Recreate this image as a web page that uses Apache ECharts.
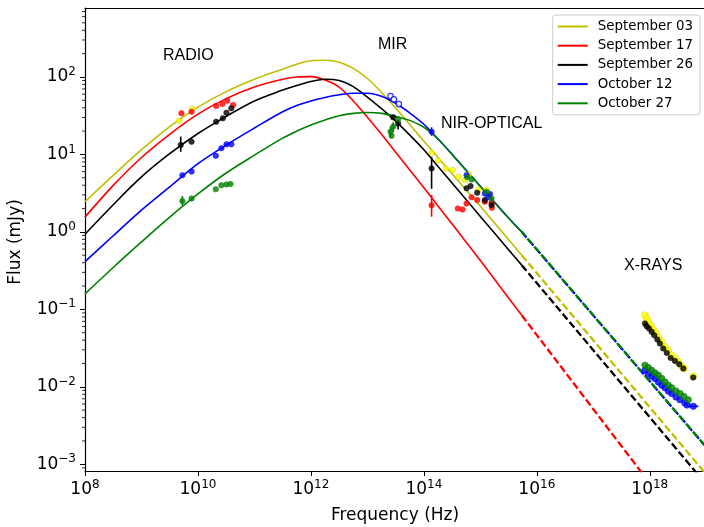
<!DOCTYPE html>
<html>
<head>
<meta charset="utf-8">
<script src="https://cdn.jsdelivr.net/npm/echarts@6/dist/echarts.min.js"></script>
<style>
  html, body { margin: 0; padding: 0; background: #fff; }
  #chart { width: 704px; height: 527px; }
</style>
</head>
<body>
<div id="chart"></div>
<script>
// model curves (Hz, mJy): half decades, quarter decades around the peaks
const curveFreq = [1e8, 3.16e8, 1e9, 3.16e9, 1e10, 3.16e10, 1e11, 3.16e11, 5.62e11, 1e12, 1.78e12, 3.16e12, 5.62e12,
  1e13, 1.78e13, 3.16e13, 5.62e13, 1e14, 1.78e14, 3.16e14, 1e15, 3.16e15, 5.4e15];
const sep03Curve = [2.45, 5.37, 11.5, 22.9, 40.7, 64.6, 93.3, 126, 146, 162, 164, 155, 129, 95.5, 63.1, 39.8, 24.3, 14.8, 9.12, 5.62, 2.14, 0.794, 0.50];
const sep17Curve = [1.55, 3.98, 9.12, 18.2, 33.1, 52.5, 74.1, 93.3, 100, 101, 91.2, 74.1, 49.0, 30.2, 18.2, 10.7, 6.31, 3.72, 2.16, 1.26, 0.427, 0.140, 0.0839];
const sep26Curve = [0.933, 2.24, 5.13, 10.2, 18.6, 30.9, 49.0, 67.6, 77.6, 87.1, 93.3, 90.2, 75.0, 55.0, 38.9, 26.9, 17.8, 11.5, 7.0, 4.27, 1.58, 0.589, 0.372];
const oct12Curve = [0.412, 0.891, 1.91, 3.80, 7.59, 13.2, 21.9, 35.5, 42.7, 49.0, 54.3, 58.9, 61.7, 61.7, 56.2, 45.7, 34.3, 24.5, 15.8, 10.0, 3.89, 1.51, 1.0];
const oct27Curve = [0.158, 0.347, 0.741, 1.55, 3.09, 5.75, 9.77, 16.2, 20.0, 24.0, 27.9, 31.6, 33.9, 34.7, 33.9, 30.9, 27.5, 22.4, 15.8, 10.0, 3.85, 1.51, 1.0];

// extrapolation to X-rays (dashed)
const extraFreq = [5.4e15, 1e19];
const sep03Extra = [0.50, 7.4e-4];
const sep17Extra = [0.0839, 6.3e-5];
const sep26Extra = [0.372, 5.5e-4];
const oct12Extra = [1.0, 1.66e-3];
const oct27Extra = [1.0, 1.66e-3];

// observed points: radio, MIR, NIR-optical
const sep03Freq = [4.6e9, 7.9e9, 1.37e14, 1.78e14, 2.45e14, 3.24e14, 4.07e14, 5.3e14, 6.3e14, 9.2e14, 1.29e15, 1.38e15];
const sep03Flux = [27.2, 38.9, 10.5, 8.3, 6.6, 6.3, 5.15, 4.67, 5.5, 3.5, 3.5, 3.0];
const sep17Freq = [5.1e9, 7.7e9, 2.1e10, 2.7e10, 3.3e10, 4.2e10, 1.37e14, 3.98e14, 4.84e14, 5.7e14, 7.0e14, 8.8e14, 1.2e15, 1.58e15, 1.6e15];
const sep17Flux = [34, 35.6, 42.2, 44.8, 49.4, 43.5, 2.2, 2.0, 1.95, 2.33, 2.79, 2.57, 2.45, 2.38, 2.05];
const sep26Freq = [4.95e9, 7.7e9, 2.1e10, 2.75e10, 3.2e10, 3.9e10, 2.86e13, 3.5e13, 1.37e14, 5.7e14, 6.7e14, 8.8e14, 1.2e15, 1.58e15];
const sep26Flux = [13.2, 14.6, 26.4, 29.2, 34.6, 39.5, 30.1, 25.1, 6.6, 3.65, 3.9, 3.2, 2.57, 2.22];
const oct12Freq = [5.3e9, 7.7e9, 2.07e10, 2.6e10, 3.2e10, 3.9e10, 1.37e14, 5.7e14, 1.2e15, 1.38e15, 1.48e15];
const oct12Flux = [5.4, 6.0, 9.6, 12.0, 13.5, 13.5, 19.6, 5.4, 3.14, 2.79, 3.08];
const oct12MirFreq = [2.57e13, 2.94e13, 3.6e13];
const oct12MirFlux = [56.7, 51.3, 44.7];
const oct27Freq = [5.3e9, 7.7e9, 2.07e10, 2.6e10, 3.2e10, 3.76e10, 2.57e13, 2.68e13, 2.86e13, 3.5e13, 5.85e14, 7.0e14, 1.29e15, 1.58e15];
const oct27Flux = [2.5, 2.7, 3.54, 4.0, 4.1, 4.14, 19.6, 17.4, 22.8, 28.4, 5.06, 4.76, 3.3, 2.7];

// X-ray points
const sep03XFreq = [8.22e17, 8.81e17, 9.42e17, 1.04e18, 1.15e18, 1.29e18, 1.44e18, 1.63e18, 1.86e18, 2.13e18, 2.44e18, 2.79e18, 3.2e18, 3.67e18, 4.04e18, 5.89e18];
const sep03XFlux = [0.084, 0.076, 0.069, 0.062, 0.055, 0.049, 0.043, 0.038, 0.033, 0.029, 0.0255, 0.0231, 0.0209, 0.0184, 0.0172, 0.0137];
const sep26XFreq = [8.22e17, 8.81e17, 9.68e17, 1.08e18, 1.2e18, 1.36e18, 1.51e18, 1.73e18, 2.0e18, 2.34e18, 2.79e18, 3.33e18, 3.93e18, 5.89e18];
const sep26XFlux = [0.0656, 0.0605, 0.0565, 0.0512, 0.0463, 0.0408, 0.0362, 0.0312, 0.0274, 0.0236, 0.0216, 0.0195, 0.0172, 0.0132];
const oct12XFreq = [8.22e17, 9.42e17, 1.08e18, 1.24e18, 1.42e18, 1.63e18, 1.86e18, 2.13e18, 2.44e18, 2.91e18, 3.43e18, 4.17e18, 4.57e18, 5.89e18];
const oct12XFlux = [0.0163, 0.0148, 0.0137, 0.0128, 0.0115, 0.0105, 0.0097, 0.0088, 0.0082, 0.0074, 0.0068, 0.0062, 0.0058, 0.0056];
const oct27XFreq = [8.22e17, 9.42e17, 1.08e18, 1.24e18, 1.42e18, 1.63e18, 1.86e18, 2.13e18, 2.44e18, 2.91e18, 3.43e18, 4.04e18, 4.81e18];
const oct27XFlux = [0.019, 0.0177, 0.0163, 0.0151, 0.0141, 0.0128, 0.0115, 0.0105, 0.0097, 0.0088, 0.0082, 0.0075, 0.0068];

// error bars
const sep17ErrFreq = [1.37e14], sep17ErrLo = [1.57], sep17ErrHi = [3.0];
const sep26ErrFreq = [4.95e9, 3.5e13, 1.37e14], sep26ErrLo = [10.8, 21, 3.6], sep26ErrHi = [17, 28, 9.3];
const oct12ErrFreq = [1.37e14], oct12ErrLo = [17.4], oct12ErrHi = [22.4];
const oct27ErrFreq = [5.3e9, 2.57e13, 2.86e13], oct27ErrLo = [2.2, 16.5, 19.5], oct27ErrHi = [2.9, 23, 26];
const oct12XErrLo = [4.57e18], oct12XErrHi = [7.24e18], oct12XErrFlux = [0.0056];

const xTicks = [8, 10, 12, 14, 16, 18];
const yTicks = [-3, -2, -1, 0, 1, 2];
const yMin = -3.087, yMax = 2.89, xMin = 8, xMax = 18.96;

const lg = Math.log10;
const pts = (fs, vs) => fs.map((f, i) => [lg(f), lg(vs[i])]);

// minor ticks of the log flux axis (2..9 in each decade)
const minorY = [];
for (let n = -4; n <= 2; n++) {
  for (let m = 2; m <= 9; m++) {
    const v = n + lg(m);
    if (v > yMin && v < yMax) minorY.push(v);
  }
}

const sup = v => {
  const n = Math.round(v);
  return '{b|10}{s|' + (n < 0 ? '\u2212' + (-n) : n) + '}';
};
const richLabel = {
  b: { fontSize: 17, fontFamily: 'DejaVu Sans', color: '#000' },
  s: { fontSize: 12, fontFamily: 'DejaVu Sans', color: '#000', padding: [0, 0, 10, 0] }
};

function curve(name, color, data, dashed, offset) {
  return {
    type: 'line', name, data, smooth: dashed ? false : 0.35,
    showSymbol: false, symbol: 'none',
    lineStyle: dashed
      ? { color, width: 2.3, type: [7.4, 3.2], dashOffset: offset || 0 }
      : { color, width: 1.6 },
    itemStyle: { color }, z: 2, silent: true
  };
}

function dots(name, fill, border, data, size, open) {
  return {
    type: 'scatter', name, data, symbolSize: size || 5.5,
    itemStyle: { color: open ? '#fff' : fill, borderColor: border, borderWidth: open ? 1.2 : 0.6 },
    z: 4, silent: true
  };
}

function vErr(name, color, freq, lo, hi) {
  return {
    type: 'custom', name, z: 3, silent: true,
    data: freq.map((f, i) => [lg(f), lg(lo[i]), lg(hi[i])]),
    encode: { x: 0, y: [1, 2] },
    renderItem: (params, api) => {
      const a = api.coord([api.value(0), api.value(1)]);
      const b = api.coord([api.value(0), api.value(2)]);
      return { type: 'line', shape: { x1: a[0], y1: a[1], x2: b[0], y2: b[1] }, style: { stroke: color, lineWidth: 1.6 } };
    }
  };
}

function hErr(name, color, lo, hi, flux) {
  return {
    type: 'custom', name, z: 3, silent: true,
    data: lo.map((f, i) => [lg(f), lg(hi[i]), lg(flux[i])]),
    encode: { x: [0, 1], y: 2 },
    renderItem: (params, api) => {
      const a = api.coord([api.value(0), api.value(2)]);
      const b = api.coord([api.value(1), api.value(2)]);
      return { type: 'line', shape: { x1: a[0], y1: a[1], x2: b[0], y2: b[1] }, style: { stroke: color, lineWidth: 1.6 } };
    }
  };
}

const C = { sep03: '#bfbf00', sep17: '#ff0000', sep26: '#000000', oct12: '#0000ff', oct27: '#008000' };

const chart = echarts.init(document.getElementById('chart'));
chart.setOption({
  animation: false,
  backgroundColor: '#fff',
  grid: { left: 85, right: 0, top: 8, bottom: 56 },
  xAxis: [{
    type: 'value', min: xMin, max: xMax, position: 'bottom',
    axisLine: { onZero: false, lineStyle: { color: '#000', width: 1.2 } },
    axisTick: { customValues: xTicks, length: 5, lineStyle: { color: '#000', width: 1 } },
    axisLabel: { customValues: xTicks, formatter: sup, rich: richLabel, margin: 8 },
    splitLine: { show: false }
  }, {
    type: 'value', min: xMin, max: xMax, position: 'top',
    axisLine: { onZero: false, lineStyle: { color: '#000', width: 1.2 } },
    axisTick: { show: false }, axisLabel: { show: false }, splitLine: { show: false }
  }],
  yAxis: {
    type: 'value', min: yMin, max: yMax, position: 'left',
    axisLine: { show: true, onZero: false, lineStyle: { color: '#000', width: 1.2 } },
    axisTick: { customValues: yTicks, length: 5, lineStyle: { color: '#000', width: 1 } },
    axisLabel: { customValues: yTicks, formatter: sup, rich: richLabel, margin: 9 },
    splitLine: { show: false }
  },
  legend: {
    data: ['September 03', 'September 17', 'September 26', 'October 12', 'October 27'],
    orient: 'vertical', right: 4, top: 15,
    icon: 'rect', itemWidth: 30, itemHeight: 2, itemGap: 6.2,
    padding: [5, 7, 5, 5],
    borderColor: '#cccccc', borderWidth: 1, borderRadius: 3,
    backgroundColor: 'rgba(255,255,255,0.85)',
    textStyle: { fontFamily: 'DejaVu Sans', fontSize: 13.4, color: '#000', padding: [0, 0, 0, 5] }
  },
  graphic: [
    { type: 'text', left: 163, top: 48, style: { text: 'RADIO', font: '16px "Liberation Sans"', fill: '#000' } },
    { type: 'text', left: 378, top: 37, style: { text: 'MIR', font: '16px "Liberation Sans"', fill: '#000' } },
    { type: 'text', left: 441, top: 116, style: { text: 'NIR-OPTICAL', font: '16px "Liberation Sans"', fill: '#000' } },
    { type: 'text', left: 624, top: 258, style: { text: 'X-RAYS', font: '16px "Liberation Sans"', fill: '#000' } },
    { type: 'text', x: 395, y: 516, style: { text: 'Frequency (Hz)', font: '17px "DejaVu Sans"', fill: '#000', align: 'center', verticalAlign: 'middle' } },
    { type: 'text', x: 16, y: 242, rotation: Math.PI / 2, style: { text: 'Flux (mJy)', font: '17px "DejaVu Sans"', fill: '#000', align: 'center', verticalAlign: 'middle' } }
  ],
  series: [
    {
      // short minor ticks on the flux axis
      type: 'custom', name: 'minor ticks', silent: true, z: 5, clip: false,
      data: minorY.map(v => [xMin, v]),
      renderItem: (params, api) => {
        const c = api.coord([api.value(0), api.value(1)]);
        return { type: 'line', shape: { x1: c[0] - 3, y1: c[1], x2: c[0], y2: c[1] }, style: { stroke: '#000', lineWidth: 0.8 } };
      }
    },
    curve('September 03', C.sep03, pts(curveFreq, sep03Curve)),
    curve('September 17', C.sep17, pts(curveFreq, sep17Curve)),
    curve('September 26', C.sep26, pts(curveFreq, sep26Curve)),
    curve('October 12', C.oct12, pts(curveFreq, oct12Curve)),
    curve('October 27', C.oct27, pts(curveFreq, oct27Curve)),
    curve('sep03 ext', C.sep03, pts(extraFreq, sep03Extra), true),
    curve('sep17 ext', C.sep17, pts(extraFreq, sep17Extra), true),
    curve('sep26 ext', C.sep26, pts(extraFreq, sep26Extra), true),
    curve('oct12 ext', C.oct12, pts(extraFreq, oct12Extra), true),
    curve('oct27 ext', C.oct27, pts(extraFreq, oct27Extra), true, 2),
    vErr('sep17 err', '#ff0000', sep17ErrFreq, sep17ErrLo, sep17ErrHi),
    vErr('sep26 err', '#000000', sep26ErrFreq, sep26ErrLo, sep26ErrHi),
    vErr('oct12 err', '#0000ff', oct12ErrFreq, oct12ErrLo, oct12ErrHi),
    vErr('oct27 err', '#008000', oct27ErrFreq, oct27ErrLo, oct27ErrHi),
    hErr('oct12 xerr', '#0000ff', oct12XErrLo, oct12XErrHi, oct12XErrFlux),
    dots('sep03 obs', '#ffff00', '#c8c800', pts(sep03Freq, sep03Flux)),
    dots('sep03 x', '#ffff00', '#d8d800', pts(sep03XFreq, sep03XFlux), 7),
    dots('sep17 obs', '#ff0000', '#ff0000', pts(sep17Freq, sep17Flux)),
    dots('sep26 obs', '#000000', '#000000', pts(sep26Freq, sep26Flux)),
    dots('sep26 x', '#000000', '#000000', pts(sep26XFreq, sep26XFlux), 5.5),
    dots('oct12 obs', '#0000ff', '#0000ff', pts(oct12Freq, oct12Flux)),
    dots('oct12 mir', '#0000ff', '#0000ff', pts(oct12MirFreq, oct12MirFlux), 5.5, true),
    dots('oct12 x', '#0000ff', '#0000ff', pts(oct12XFreq, oct12XFlux), 6.5),
    dots('oct27 obs', '#008000', '#008000', pts(oct27Freq, oct27Flux)),
    dots('oct27 x', '#008000', '#008000', pts(oct27XFreq, oct27XFlux), 6.5)
  ]
});
</script>
</body>
</html>
